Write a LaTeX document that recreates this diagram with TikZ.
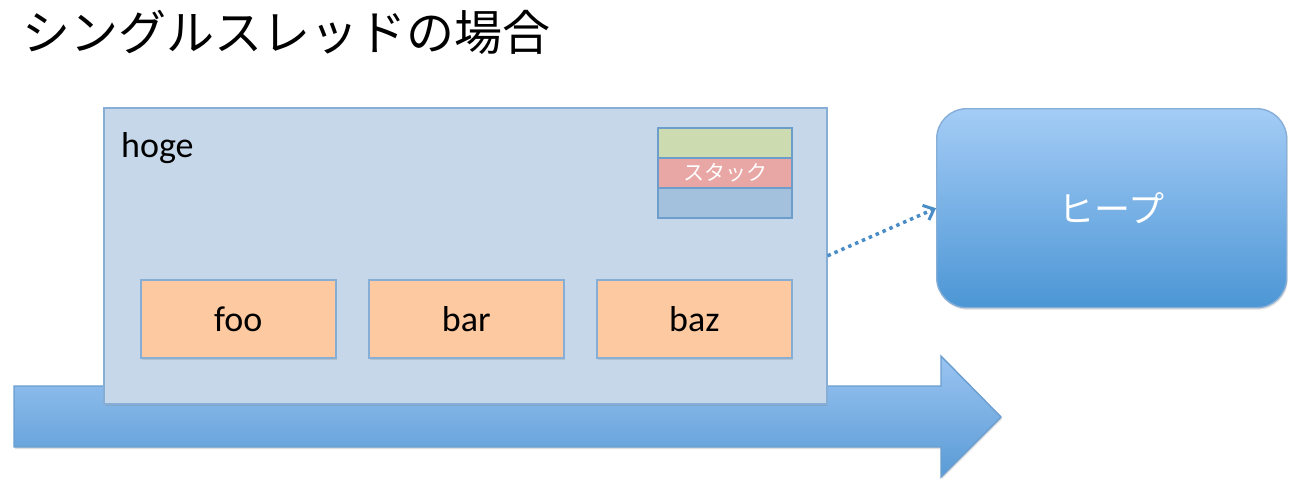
\documentclass[tikz,border=0pt]{standalone}
\usepackage{fontspec}
\setmainfont{Carlito}
\newfontfamily\jp{Noto Sans CJK JP}
\usetikzlibrary{arrows.meta,shadows}
\definecolor{hogefill}{HTML}{C5D7E8}
\definecolor{boxline}{HTML}{86AED6}
\definecolor{foofill}{HTML}{FDC9A1}
\definecolor{stgreen}{HTML}{CDDCB0}
\definecolor{stred}{HTML}{E8A7A5}
\definecolor{stblue}{HTML}{A3C1DD}
\definecolor{stline}{HTML}{6C9DCB}
\definecolor{heaptop}{HTML}{A4CCF6}
\definecolor{heapbot}{HTML}{4C96D5}
\definecolor{arrtop}{HTML}{9AC4F1}
\definecolor{arrbot}{HTML}{5A9BD6}
\definecolor{arrline}{HTML}{6A9ECF}
\definecolor{dotcol}{HTML}{4A8CC6}
\tikzset{
  shad/.style={drop shadow={opacity=0.25,shadow xshift=1pt,shadow yshift=-2pt}},
  hogebox/.style={draw=boxline,line width=1.6pt,fill=hogefill,anchor=north west,inner sep=0pt,shad},
  taskbox/.style={draw=boxline,line width=1.6pt,fill=foofill,anchor=north west,inner sep=0pt,
    minimum width=195pt,minimum height=78pt,font=\fontsize{36}{40}\selectfont,shad},
  stackbox/.style={draw=stline,line width=2pt,anchor=north west,inner sep=0pt,
    minimum width=134pt,minimum height=30pt},
  heapbox/.style={draw=boxline,line width=1.4pt,top color=heaptop,bottom color=heapbot,
    rounded corners=30pt,anchor=north west,inner sep=0pt,minimum width=350pt,minimum height=199pt,
    text=white,font=\jp\fontsize{36}{40}\selectfont,shad},
}
\begin{document}
\begin{tikzpicture}[x=1pt,y=-1pt]
\useasboundingbox (0,0) rectangle (1299,488);
% title
\node[anchor=base west,inner sep=0pt,font=\jp\fontsize{48}{52}\selectfont] (title) at (22,50) {シングルスレッドの場合};
% big arrow
\path[draw=arrline,line width=1.4pt,top color=arrtop,bottom color=arrbot,shad]
  (14,386) -- (941,386) -- (941,356) -- (1001,417) -- (941,477) -- (941,447) -- (14,447) -- cycle;
% hoge box
\node[hogebox,minimum width=723pt,minimum height=296pt] (hoge) at (103,107) {};
\node[anchor=base west,inner sep=0pt,font=\fontsize{36}{40}\selectfont] (hogelabel) at (121,157) {hoge};
% tasks
\node[taskbox] (foo) at (140,279) {foo};
\node[taskbox] (bar) at (368,279) {bar};
\node[taskbox] (baz) at (596,279) {baz};
% stack
\node[stackbox,fill=stgreen,shad] (s1) at (657,127) {};
\node[stackbox,fill=stred,minimum height=30pt,text=white,font=\jp\fontsize{21}{24}\selectfont] (s2) at (657,157) {スタック};
\node[stackbox,fill=stblue] (s3) at (657,187) {};
% heap
\node[heapbox] (heap) at (936,108) {ヒープ};
% dotted arrow
\draw[dotcol,line width=3.5pt,dash pattern=on 3.5pt off 4pt,-{Straight Barb[length=9pt,width=16pt,line width=3pt]}]
  (hoge.east) -- (heap.west);
\end{tikzpicture}
\end{document}
